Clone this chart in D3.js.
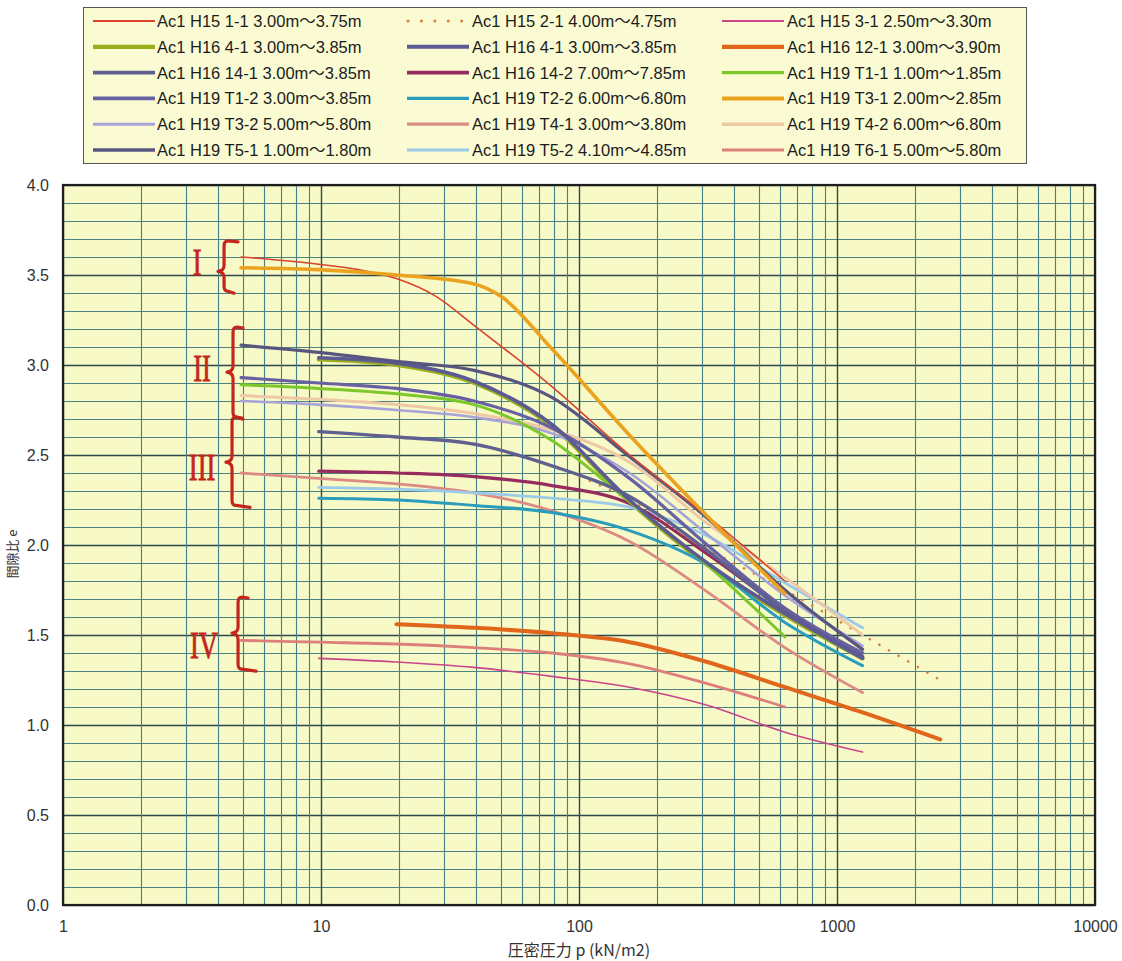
<!DOCTYPE html>
<html>
<head>
<meta charset="utf-8">
<script src="https://cdn.jsdelivr.net/npm/d3@7"></script>
<style>
  body { margin: 0; background: #ffffff; }
  svg { display: block; }
</style>
</head>
<body>
<svg id="chart" width="1122" height="961"></svg>
<script>
// e–log p consolidation curves: [pressure p (kN/m2), void ratio e]
const h15_1_1  = [[4.9,3.60],[9.8,3.56],[14,3.53],[19.6,3.48],[28,3.38],[39.2,3.22],[78.5,2.88],[157,2.50],[314,2.16],[628,1.80]];
const h15_2_1  = [[9.8,2.63],[19.6,2.60],[39.2,2.56],[78.5,2.44],[157,2.25],[314,1.98],[628,1.75],[1256,1.50],[2512,1.25]];
const h15_3_1  = [[9.8,1.37],[19.6,1.35],[39.2,1.32],[78.5,1.27],[157,1.21],[314,1.11],[628,0.96],[1256,0.85]];
const h16_4_1a = [[9.8,3.03],[19.6,3.00],[39.2,2.90],[78.5,2.66],[157,2.24],[314,1.89],[628,1.61],[1256,1.37]];
const h16_4_1b = [[9.8,3.04],[19.6,3.01],[39.2,2.91],[78.5,2.67],[157,2.25],[314,1.90],[628,1.62],[1256,1.38]];
const h16_12_1 = [[19.6,1.56],[39.2,1.54],[78.5,1.51],[157,1.46],[314,1.35],[628,1.21],[1256,1.07],[2512,0.92]];
const h16_14_1 = [[9.8,2.63],[19.6,2.60],[39.2,2.56],[78.5,2.44],[157,2.27],[314,1.97],[628,1.63],[1256,1.37]];
const h16_14_2 = [[9.8,2.41],[19.6,2.40],[39.2,2.38],[78.5,2.33],[157,2.23],[314,1.95],[628,1.64],[1256,1.37]];
const h19_t1_1 = [[4.9,2.89],[9.8,2.87],[19.6,2.84],[39.2,2.78],[78.5,2.58],[157,2.24],[314,1.89],[628,1.49]];
const h19_t1_2 = [[4.9,2.93],[9.8,2.90],[19.6,2.87],[39.2,2.80],[78.5,2.65],[157,2.37],[314,2.00],[628,1.65],[1256,1.40]];
const h19_t2_2 = [[9.8,2.26],[19.6,2.25],[39.2,2.22],[78.5,2.18],[157,2.08],[314,1.89],[628,1.57],[1256,1.33]];
const h19_t3_1 = [[4.9,3.54],[9.8,3.53],[19.6,3.50],[39.2,3.45],[50,3.38],[78.5,3.09],[157,2.61],[314,2.16],[628,1.73]];
const h19_t3_2 = [[4.9,2.80],[9.8,2.78],[19.6,2.75],[39.2,2.71],[78.5,2.62],[157,2.40],[314,2.06],[628,1.72],[1256,1.44]];
const h19_t4_1 = [[4.9,2.40],[9.8,2.37],[19.6,2.34],[39.2,2.29],[78.5,2.19],[157,2.02],[314,1.74],[628,1.43],[1256,1.18]];
const h19_t4_2 = [[4.9,2.83],[9.8,2.81],[19.6,2.78],[39.2,2.73],[78.5,2.64],[157,2.46],[314,2.12],[628,1.82],[1256,1.50]];
const h19_t5_1 = [[4.9,3.11],[9.8,3.07],[19.6,3.02],[39.2,2.97],[78.5,2.82],[157,2.49],[314,2.15],[628,1.75],[1256,1.42]];
const h19_t5_2 = [[9.8,2.32],[19.6,2.31],[39.2,2.29],[78.5,2.26],[157,2.21],[314,2.05],[628,1.79],[1256,1.54]];
const h19_t6_1 = [[4.9,1.47],[9.8,1.46],[19.6,1.45],[39.2,1.43],[78.5,1.40],[157,1.34],[314,1.23],[628,1.10]];

// legend order (three columns, row by row)
const seriesData = [
  h15_1_1, h15_2_1, h15_3_1,
  h16_4_1a, h16_4_1b, h16_12_1,
  h16_14_1, h16_14_2, h19_t1_1,
  h19_t1_2, h19_t2_2, h19_t3_1,
  h19_t3_2, h19_t4_1, h19_t4_2,
  h19_t5_1, h19_t5_2, h19_t6_1
];
const seriesNames = [
  "Ac1 H15 1-1 3.00m～3.75m", "Ac1 H15 2-1 4.00m～4.75m", "Ac1 H15 3-1 2.50m～3.30m",
  "Ac1 H16 4-1 3.00m～3.85m", "Ac1 H16 4-1 3.00m～3.85m", "Ac1 H16 12-1 3.00m～3.90m",
  "Ac1 H16 14-1 3.00m～3.85m", "Ac1 H16 14-2 7.00m～7.85m", "Ac1 H19 T1-1 1.00m～1.85m",
  "Ac1 H19 T1-2 3.00m～3.85m", "Ac1 H19 T2-2 6.00m～6.80m", "Ac1 H19 T3-1 2.00m～2.85m",
  "Ac1 H19 T3-2 5.00m～5.80m", "Ac1 H19 T4-1 3.00m～3.80m", "Ac1 H19 T4-2 6.00m～6.80m",
  "Ac1 H19 T5-1 1.00m～1.80m", "Ac1 H19 T5-2 4.10m～4.85m", "Ac1 H19 T6-1 5.00m～5.80m"
];

// axis ticks
const xTickValues = [1, 10, 100, 1000, 10000];
const yTickValues = [0, 0.5, 1.0, 1.5, 2.0, 2.5, 3.0, 3.5, 4.0];

// soil groups I–IV: brace extents in void ratio
const groupLabels = ["I", "II", "III", "IV"];
const groupTop    = [3.69, 3.21, 2.71, 1.71];
const groupTip    = [3.52, 2.96, 2.46, 1.51];
const groupBottom = [3.41, 2.71, 2.22, 1.31];
const groupBraceP = [4.21, 4.56, 4.52, 4.77];
const groupLabelP = [3.31, 3.46, 3.46, 3.52];
const groupLabelE = [3.57, 2.98, 2.43, 1.44];

// ---- styles ----
const lineColors = [
  "#d9432c", "#d9823c", "#c8468a",
  "#9aae1c", "#5c5a92", "#e0661c",
  "#5f6090", "#962c5e", "#7cc82a",
  "#6760a2", "#2a9cbc", "#eba21e",
  "#a8a2d8", "#dc8a84", "#efc9a6",
  "#58567e", "#9ccbea", "#dc7e7a"
];
const lineWidths = [
  1.6, 2.6, 1.6,
  4, 3.6, 4,
  3.4, 3.2, 3,
  3.2, 3, 3.6,
  2.6, 2.8, 3,
  3.2, 2.8, 2.8
];
const drawOrder = [1, 3, 17, 2, 5, 13, 10, 16, 7, 12, 14, 8, 9, 6, 4, 15, 0, 11];

const svg = d3.select("#chart");
const plotL = 63, plotR = 1095, plotT = 185, plotB = 905;

const x = d3.scaleLog().domain([1, 10000]).range([plotL, plotR]);
const y = d3.scaleLinear().domain([0, 4]).range([plotB, plotT]);

// plot background
svg.append("rect")
  .attr("x", plotL).attr("y", plotT)
  .attr("width", plotR - plotL).attr("height", plotB - plotT)
  .attr("fill", "#f7f9c6");

// grid
const isHalf = d => Math.abs(d * 2 - Math.round(d * 2)) < 1e-6;
const grid = svg.append("g");
grid.selectAll("line.h").data(y.ticks(40)).join("line")
  .attr("x1", plotL).attr("x2", plotR)
  .attr("y1", d => Math.round(y(d)) + 0.5).attr("y2", d => Math.round(y(d)) + 0.5)
  .attr("stroke", d => isHalf(d) ? "#2c4a4c" : "#4d8380")
  .attr("stroke-width", d => isHalf(d) ? 1.4 : 1.1);
grid.selectAll("line.v").data(x.ticks()).join("line")
  .attr("y1", plotT).attr("y2", plotB)
  .attr("x1", d => Math.round(x(d)) + 0.5).attr("x2", d => Math.round(x(d)) + 0.5)
  .attr("stroke", d => xTickValues.includes(d) ? "#2c4a4c" : "#45808a")
  .attr("stroke-width", d => xTickValues.includes(d) ? 1.4 : 1.1);

// curves
const line = d3.line()
  .x(d => x(d[0]))
  .y(d => y(d[1]))
  .curve(d3.curveMonotoneX);

const curves = svg.append("g").attr("fill", "none");
drawOrder.forEach(i => {
  const p = curves.append("path")
    .attr("d", line(seriesData[i]))
    .attr("stroke", lineColors[i])
    .attr("stroke-width", lineWidths[i])
    .attr("stroke-linejoin", "round")
    .attr("stroke-linecap", "round");
  if (i === 1) p.attr("stroke-dasharray", "0.1 11").attr("stroke-width", 2.6);
});

// plot frame
svg.append("rect")
  .attr("x", plotL).attr("y", plotT)
  .attr("width", plotR - plotL).attr("height", plotB - plotT)
  .attr("fill", "none").attr("stroke", "#1e1e1e").attr("stroke-width", 2.2);

// axes
const yAxis = svg.append("g")
  .attr("transform", `translate(${plotL},0)`)
  .call(d3.axisLeft(y).tickValues(yTickValues).tickFormat(d3.format(".1f")).tickSize(0).tickPadding(14));
yAxis.select(".domain").remove();
yAxis.selectAll("text")
  .attr("font-family", "'Liberation Sans', Arial, sans-serif")
  .attr("font-size", 16).attr("fill", "#333");

const xAxis = svg.append("g")
  .attr("transform", `translate(0,${plotB})`)
  .call(d3.axisBottom(x).tickValues(xTickValues).tickFormat(d3.format("d")).tickSize(0).tickPadding(16));
xAxis.select(".domain").remove();
xAxis.selectAll("text")
  .attr("font-family", "'Liberation Sans Narrow', 'Liberation Sans', Arial, sans-serif")
  .attr("font-size", 16).attr("fill", "#333");

// axis titles
svg.append("text")
  .attr("x", x(100)).attr("y", 956)
  .attr("text-anchor", "middle")
  .attr("font-family", "'Noto Sans CJK JP', sans-serif")
  .attr("font-size", 16).attr("fill", "#333")
  .text("圧密圧力 p (kN/m2)");

svg.append("text")
  .attr("transform", `translate(17,${y(1.95)}) rotate(-90)`)
  .attr("text-anchor", "middle")
  .attr("font-family", "'Noto Sans CJK JP', sans-serif")
  .attr("font-size", 13).attr("fill", "#333")
  .text("間隙比 e");

// group braces and numerals
const braceColor = "#c4261c";
const braces = svg.append("g");
groupLabels.forEach((lab, i) => {
  const xv = x(groupBraceP[i]);
  const yt = y(groupTop[i]), ym = y(groupTip[i]), yb = y(groupBottom[i]);
  const endTop = i === 0 ? 14 : 10, endBot = i >= 2 ? 18 : 10;
  const path = `M${xv + endTop},${yt + 1} L${xv + 4},${yt} Q${xv},${yt} ${xv},${yt + 5}` +
    ` L${xv},${ym - 6} Q${xv},${ym - 1} ${xv - 6},${ym} Q${xv},${ym + 1} ${xv},${ym + 6}` +
    ` L${xv},${yb - 5} Q${xv},${yb} ${xv + 4},${yb} L${xv + endBot},${yb + 2}`;
  braces.append("path")
    .attr("d", path)
    .attr("fill", "none")
    .attr("stroke", braceColor)
    .attr("stroke-width", 3.2)
    .attr("stroke-linecap", "round")
    .attr("stroke-linejoin", "round");
  const lx = x(groupLabelP[i]), ly = y(groupLabelE[i]);
  braces.append("text")
    .attr("transform", `translate(${lx},${ly}) scale(0.72,1)`)
    .attr("text-anchor", "middle")
    .attr("dy", "0.33em")
    .attr("font-family", "'Liberation Serif', 'DejaVu Serif', serif")
    .attr("font-size", 37)
    .attr("fill", braceColor)
    .attr("stroke", braceColor).attr("stroke-width", 0.8)
    .text(lab);
});

// legend
const legend = svg.append("g");
legend.append("rect")
  .attr("x", 83.5).attr("y", 7.5)
  .attr("width", 943).attr("height", 156)
  .attr("fill", "#fafbd3").attr("stroke", "#555").attr("stroke-width", 1);
const colLineX = [93, 407, 722];
const colTextX = [157, 472, 787];
seriesNames.forEach((name, i) => {
  const col = i % 3, row = Math.floor(i / 3);
  const ly = 21 + row * 25.8;
  const l = legend.append("line")
    .attr("x1", colLineX[col]).attr("x2", colLineX[col] + 62)
    .attr("y1", ly).attr("y2", ly)
    .attr("stroke", lineColors[i])
    .attr("stroke-width", Math.min(lineWidths[i] + 0.4, 4.2));
  if (i === 1) {
    l.attr("stroke-dasharray", "0.1 13.3").attr("stroke-linecap", "round").attr("stroke-width", 3)
     .attr("x1", colLineX[col] + 1);
  }
  legend.append("text")
    .attr("x", colTextX[col]).attr("y", ly)
    .attr("dy", "0.36em")
    .attr("font-family", "'Liberation Sans', Arial, 'Noto Sans CJK JP', sans-serif")
    .attr("font-size", 16.5).attr("fill", "#1c1c1c")
    .text(name);
});
</script>
</body>
</html>
